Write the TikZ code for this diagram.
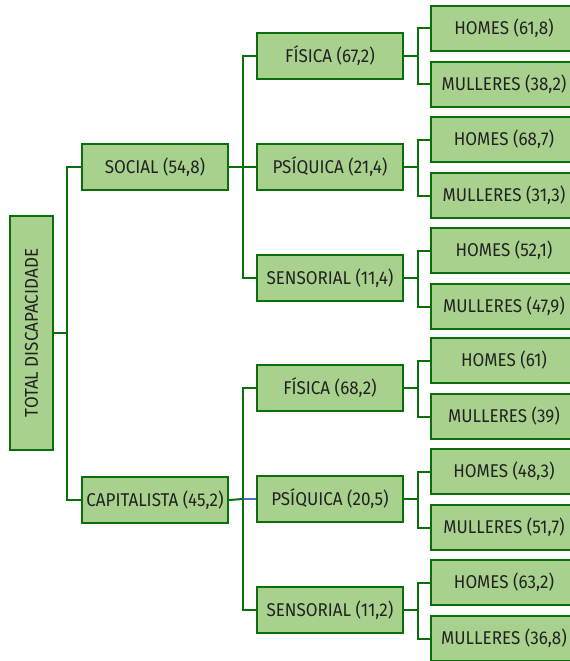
\documentclass[tikz,border=0pt]{standalone}
\usepackage{fontspec}
\setmainfont{Fira Sans}[FakeStretch=0.92]
\definecolor{boxfill}{HTML}{A9D18E}
\definecolor{boxdraw}{HTML}{0A6E0A}
\definecolor{txt}{HTML}{222222}
\definecolor{bluelink}{HTML}{4472C4}
\tikzset{
  box/.style={draw=boxdraw, fill=boxfill, line width=2bp, minimum width=146bp, minimum height=46bp, inner sep=0pt, text=txt, font=\fontsize{18.5bp}{22bp}\selectfont, anchor=center},
  leaf/.style={box, minimum height=45bp},
  link/.style={draw=boxdraw, line width=2bp},
}
\begin{document}
\begin{tikzpicture}[x=1bp,y=-1bp]
\useasboundingbox (0,0) rectangle (570,661);
\clip (0,0) rectangle (570,661);
% root
\node[box, minimum width=234bp, minimum height=43bp, rotate=90] (root) at (31.5,333) {TOTAL DISCAPACIDADE};
% level 1
\node[box] (soc) at (155,167) {SOCIAL (54,8)};
\node[box] (cap) at (155,500) {CAPITALISTA (45,2)};
% level 2
\node[box] (sf) at (330,56) {FÍSICA (67,2)};
\node[box] (sp) at (330,167) {PSÍQUICA (21,4)};
\node[box] (ss) at (330,278) {SENSORIAL (11,4)};
\node[box] (cf) at (330,388) {FÍSICA (68,2)};
\node[box] (cp) at (330,499) {PSÍQUICA (20,5)};
\node[box] (cs) at (330,610) {SENSORIAL (11,2)};
% level 3
\node[leaf] (sfh) at (504,28.5) {HOMES (61,8)};
\node[leaf] (sfm) at (504,84.5) {MULLERES (38,2)};
\node[leaf] (sph) at (504,139.5) {HOMES (68,7)};
\node[leaf] (spm) at (504,195.5) {MULLERES (31,3)};
\node[leaf] (ssh) at (504,250.5) {HOMES (52,1)};
\node[leaf] (ssm) at (504,306.5) {MULLERES (47,9)};
\node[leaf] (cfh) at (504,360.5) {HOMES (61)};
\node[leaf] (cfm) at (504,416.5) {MULLERES (39)};
\node[leaf] (cph) at (504,471.5) {HOMES (48,3)};
\node[leaf] (cpm) at (504,527.5) {MULLERES (51,7)};
\node[leaf] (csh) at (504,582.5) {HOMES (63,2)};
\node[leaf] (csm) at (504,638.5) {MULLERES (36,8)};
% connectors root
\coordinate (rb) at (67,333);
\draw[link] (root.south) -- (rb);
\draw[link] (soc.west) -| (rb);
\draw[link] (cap.west) -| (rb);
% social
\coordinate (sb) at (243,167);
\draw[link] (soc.east) -- (sb);
\draw[link] (sf.west) -| (sb);
\draw[link] (sp.west) -- (sb);
\draw[link] (ss.west) -| (sb);
% capitalista
\coordinate (cb) at (243,499);
\draw[link] (cap.east) -- (cb);
\draw[link] (cf.west) -| (cb);
\draw[bluelink, line width=2bp] (cp.west) -- (cb);
\draw[link] (cs.west) -| (cb);
% level 3 connectors
\foreach \p/\h/\m in {sf/sfh/sfm, sp/sph/spm, ss/ssh/ssm, cf/cfh/cfm, cp/cph/cpm, cs/csh/csm}{
  \coordinate (\p b) at ([xshift=14bp]\p.east);
  \draw[link] (\p.east) -- (\p b);
  \draw[link] (\h.west) -| (\p b);
  \draw[link] (\m.west) -| (\p b);
}
\end{tikzpicture}
\end{document}
